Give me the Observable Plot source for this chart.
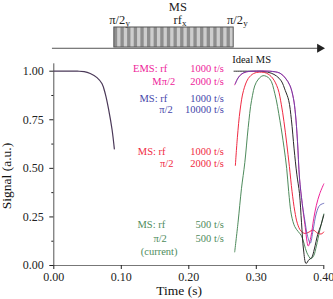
<!DOCTYPE html>
<html><head><meta charset="utf-8">
<script src="https://cdn.jsdelivr.net/npm/d3@7"></script>
<script src="https://cdn.jsdelivr.net/npm/@observablehq/plot@0.6"></script>
<style>
body{margin:0;background:#fff}
#chart svg text{font-family:"Liberation Serif","Times New Roman",serif !important;}
</style>
</head><body><div id="chart"></div>
<script>
// ---- data ----
const timeLeft   = [0, 0.02, 0.035, 0.045, 0.054, 0.064, 0.0715, 0.0764, 0.0812, 0.0863, 0.0897];
const signalLeft = [1, 1, 1, 0.998, 0.988, 0.967, 0.935, 0.882, 0.804, 0.70, 0.60];

const timeGreen   = [0.268,0.273,0.278,0.283,0.288,0.293,0.300,0.310,0.320,0.3275,0.335,0.341,0.345,0.348,0.352,0.357,0.362,0.367,0.371,0.375,0.381,0.385,0.389,0.394,0.400];
const signalGreen = [0.07,0.223,0.395,0.53,0.71,0.85,0.943,0.977,0.96,0.884,0.746,0.609,0.50,0.38,0.26,0.20,0.175,0.152,0.11,0.065,0.035,0.05,0.10,0.18,0.265];

const timeRed   = [0.269,0.272,0.276,0.281,0.288,0.296,0.305,0.315,0.324,0.332,0.337,0.341,0.345,0.349,0.353,0.357,0.361,0.366,0.372,0.378,0.384,0.391,0.396,0.400];
const signalRed = [0.515,0.66,0.80,0.90,0.962,0.988,0.995,0.99,0.965,0.91,0.83,0.74,0.63,0.51,0.38,0.28,0.215,0.178,0.165,0.172,0.183,0.166,0.162,0.172];

const timeIdeal   = [0.267,0.29,0.31,0.322,0.33,0.337,0.343,0.348,0.352,0.356,0.360,0.364,0.367,0.370,0.3737,0.378,0.382,0.386,0.391,0.396,0.400];
const signalIdeal = [1.0,1.0,0.999,0.99,0.975,0.95,0.90,0.85,0.75,0.60,0.47,0.37,0.22,0.08,0.01,0.03,0.04,0.085,0.16,0.21,0.26];

const timeBlue   = [0.269,0.273,0.278,0.285,0.30,0.32,0.335,0.343,0.350,0.355,0.358,0.361,0.364,0.368,0.372,0.376,0.380,0.384,0.389,0.394,0.400];
const signalBlue = [0.935,0.965,0.985,0.997,1.0,1.0,0.99,0.965,0.925,0.86,0.78,0.64,0.45,0.32,0.23,0.15,0.115,0.18,0.27,0.31,0.32];

const timeEMS   = [0.268,0.272,0.277,0.285,0.30,0.32,0.335,0.343,0.350,0.355,0.358,0.361,0.364,0.368,0.372,0.377,0.381,0.385,0.389,0.394,0.400];
const signalEMS = [0.93,0.96,0.982,0.996,1.0,1.0,0.99,0.965,0.925,0.86,0.78,0.64,0.45,0.32,0.21,0.10,0.15,0.24,0.31,0.37,0.42];

const xTicks = [0, 0.10, 0.20, 0.30, 0.40];
const yTicks = [0, 0.25, 0.50, 0.75, 1.00];
const yMinor = [0.125, 0.375, 0.625, 0.875];

const rfLabels    = ["EMS: rf", "MS: rf", "MS: rf", "MS: rf"];
const pulseLabels = ["Mπ/2", "π/2", "π/2", "π/2"];
const rfRates     = ["1000 t/s", "1000 t/s", "1000 t/s", "500 t/s"];
const pulseRates  = ["2000 t/s", "10000 t/s", "2000 t/s", "500 t/s"];
const colors      = ["#ee2299", "#4545aa", "#f02a42", "#4e8b5c"];
const idealColor  = "#2a2a2a";

const pulseWindow = [0.0897, 0.2665];
const stripeCount = 18;

// ---- build ----
const SERIF = "Liberation Serif";
const pts = (t, v) => t.map((x, i) => ({x, y: v[i]}));
const T = (str, x, y, o = {}) => Plot.text([str], {x: [x], y: [y], text: d => d, fontSize: 10.5, fontFamily: SERIF, ...o});

const stripeW = (pulseWindow[1] - pulseWindow[0]) / stripeCount;
const stripes = d3.range(stripeCount).map(i => ({x1: pulseWindow[0] + i * stripeW, x2: pulseWindow[0] + (i + 0.5) * stripeW}));

const diagY = [1.1219, 1.2249];
const lineY = 1.118;

const legendRows = [
  {y1: 1.012, y2: 0.947, rfX: 0.168, pX: 0.1798},
  {y1: 0.861, y2: 0.801, rfX: 0.168, pX: 0.1761},
  {y1: 0.588, y2: 0.523, rfX: 0.1655, pX: 0.1773},
  {y1: 0.211, y2: 0.1405, rfX: 0.165, pX: 0.1675}
];
const legendMarks = legendRows.flatMap((r, i) => [
  T(rfLabels[i], r.rfX, r.y1, {textAnchor: "end", fill: colors[i]}),
  T(pulseLabels[i], r.pX, r.y2, {textAnchor: "end", fill: colors[i]}),
  T(rfRates[i], 0.252, r.y1, {textAnchor: "end", fill: colors[i]}),
  T(pulseRates[i], 0.252, r.y2, {textAnchor: "end", fill: colors[i]})
]);

const chart = Plot.plot({
  width: 333, height: 299,
  marginLeft: 53.3, marginRight: 9.7, marginTop: 0, marginBottom: 34,
  x: {domain: [0, 0.4], range: [53.3, 323.3]},
  y: {domain: [0, 1], range: [265, 70.7]},
  style: {fontFamily: SERIF, fontSize: "12px", background: "#fff", color: "#222"},
  marks: [
    // pulse diagram
    Plot.ruleY([lineY], {x1: -0.002, x2: 0.392, stroke: "#555", strokeWidth: 1}),
    Plot.dot([0.394], {x: d => d, y: [lineY], symbol: "triangle", rotate: 90, r: 3.4, fill: "#222", stroke: "none"}),
    Plot.rect([pulseWindow], {x1: d => d[0], x2: d => d[1], y1: diagY[0], y2: diagY[1], fill: "#cdcdcd"}),
    Plot.rect(stripes, {x1: "x1", x2: "x2", y1: diagY[0], y2: diagY[1], fill: "#8e8e8e"}),
    Plot.rect([pulseWindow], {x1: d => d[0], x2: d => d[1], y1: diagY[0], y2: diagY[1], fill: "none", stroke: "#555", strokeWidth: 1}),
    T("MS", 0.1838, 1.330, {fontSize: 12.5}),
    T("π/2", 0.1059, 1.262, {fontSize: 12.5, textAnchor: "end"}),
    T("y", 0.1062, 1.245, {fontSize: 9, textAnchor: "start"}),
    T("rf", 0.1897, 1.262, {fontSize: 12.5, textAnchor: "end"}),
    T("x", 0.1900, 1.245, {fontSize: 9, textAnchor: "start"}),
    T("π/2", 0.2802, 1.262, {fontSize: 12.5, textAnchor: "end"}),
    T("y", 0.2805, 1.245, {fontSize: 9, textAnchor: "start"}),
    T("Ideal MS", 0.293, 1.060, {fill: "#111"}),
    // axes
    Plot.ruleX([0], {y1: 0, y2: 1.038, stroke: "#555"}),
    Plot.ruleY([0], {x1: 0, x2: 0.4, stroke: "#777"}),
    Plot.axisY(yTicks, {tickFormat: d3.format(".2f"), tickSize: 4, tickPadding: 6, label: null, fontSize: 12, fontFamily: SERIF}),
    Plot.axisY(yMinor, {tickFormat: () => "", tickSize: 2, label: null}),
    Plot.axisX(xTicks, {tickFormat: d3.format(".2f"), tickSize: 4, tickPadding: 3, label: null, fontSize: 12, fontFamily: SERIF}),
    T("Time (s)", 0.1857, -0.1287, {fontSize: 13.5, fill: "#111"}),
    T("Signal (a.u.)", -0.0699, 0.4606, {fontSize: 13.5, rotate: -90, fill: "#111"}),
    // curves
    Plot.line(pts(timeLeft, signalLeft), {x: "x", y: "y", stroke: "#4a3858", strokeWidth: 1.2, curve: "catmull-rom"}),
    Plot.line(pts(timeGreen, signalGreen), {x: "x", y: "y", stroke: colors[3], strokeWidth: 1, curve: "catmull-rom"}),
    Plot.line(pts(timeRed, signalRed), {x: "x", y: "y", stroke: colors[2], strokeWidth: 1, curve: "catmull-rom"}),
    Plot.line(pts(timeIdeal, signalIdeal), {x: "x", y: "y", stroke: idealColor, strokeWidth: 1, curve: "catmull-rom"}),
    Plot.line(pts(timeEMS, signalEMS), {x: "x", y: "y", stroke: colors[0], strokeWidth: 1, curve: "catmull-rom"}),
    Plot.line(pts(timeBlue, signalBlue), {x: "x", y: "y", stroke: colors[1], strokeWidth: 1, strokeOpacity: 0.75, curve: "catmull-rom"}),
    // legend
    ...legendMarks,
    T("(current)", 0.156, 0.072, {fill: colors[3]})
  ]
});
document.getElementById("chart").appendChild(chart);
</script></body></html>
